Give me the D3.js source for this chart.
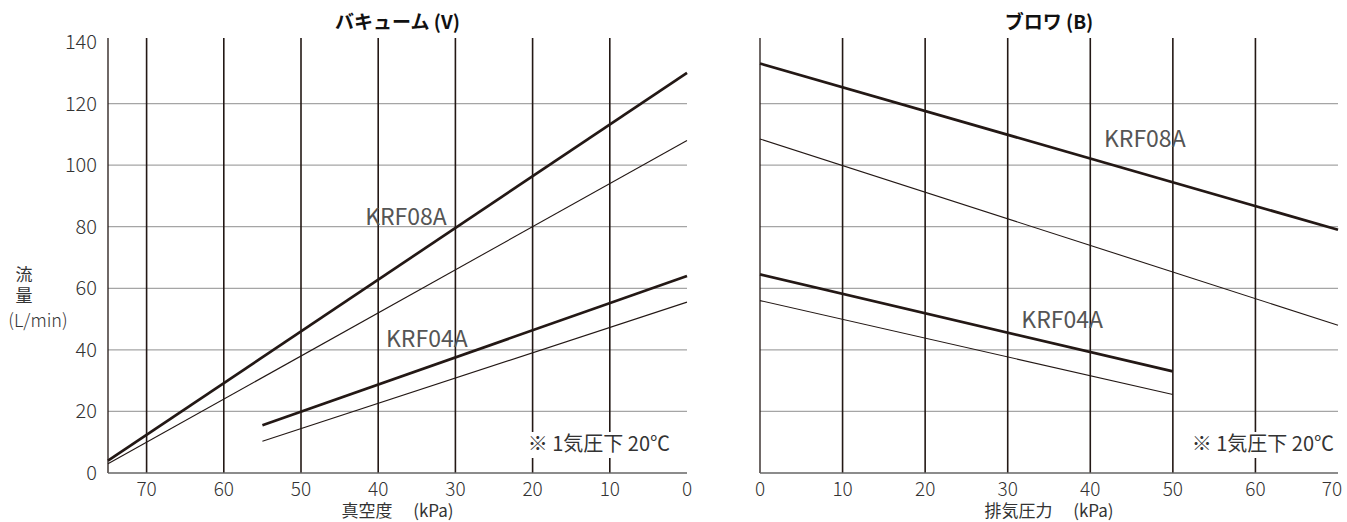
<!DOCTYPE html>
<html>
<head>
<meta charset="utf-8">
<script src="https://cdn.jsdelivr.net/npm/d3@7"></script>
<style>
  body { margin: 0; background: #fff; }
  svg text { font-family: "Noto Sans CJK JP", "Noto Sans", sans-serif; }
</style>
</head>
<body>
<svg id="chart" width="1347" height="522"></svg>
<script>
// flow vs pressure, two panels (vacuum / blower)

var flowTicks = [0, 20, 40, 60, 80, 100, 120, 140];
var vacuumTicks = [70, 60, 50, 40, 30, 20, 10, 0];
var blowerTicks = [0, 10, 20, 30, 40, 50, 60, 70];

// vacuum side: [kPa, L/min]
var vac08Upper = [[75, 4], [0, 130]];
var vac08Lower = [[75, 3], [0, 108]];
var vac04Upper = [[55, 15.5], [0, 64]];
var vac04Lower = [[55, 10.3], [0, 55.5]];

// blower side: [kPa, L/min]
var blo08Upper = [[0, 133], [70, 79]];
var blo08Lower = [[0, 108.5], [70, 48]];
var blo04Upper = [[0, 64.5], [50, 33]];
var blo04Lower = [[0, 56], [50, 25.5]];

var svg = d3.select('#chart');
var ink = '#231815';

var y = d3.scaleLinear().domain([0, 140]).range([473, 42]);
var yTop = 38;

function drawPanel(p) {
  var x = d3.scaleLinear().domain(p.domain).range(p.range);
  var g = svg.append('g');
  var x0 = p.range[0], x1 = p.range[1];

  // horizontal grid
  g.selectAll('line.h').data(flowTicks.filter(function(d) { return d > 0 && d < 140; }))
    .enter().append('line')
      .attr('x1', x0).attr('x2', x1)
      .attr('y1', function(d) { return y(d); })
      .attr('y2', function(d) { return y(d); })
      .attr('stroke', '#a5a5a5').attr('stroke-width', 1.2);

  // vertical grid
  g.selectAll('line.v').data(p.grid)
    .enter().append('line')
      .attr('x1', function(d) { return x(d); })
      .attr('x2', function(d) { return x(d); })
      .attr('y1', yTop).attr('y2', y(0))
      .attr('stroke', ink).attr('stroke-width', 1.6);

  // axes
  g.append('line').attr('x1', x0).attr('x2', x0).attr('y1', yTop).attr('y2', y(0))
    .attr('stroke', ink).attr('stroke-width', 1.3);
  g.append('line').attr('x1', x0).attr('x2', x1).attr('y1', y(0)).attr('y2', y(0))
    .attr('stroke', '#666').attr('stroke-width', 1.4);

  // note with white box
  var note = g.append('g');
  note.append('rect')
    .attr('x', p.noteEnd - 150).attr('y', 432).attr('width', 154).attr('height', 26)
    .attr('fill', '#fff');
  note.append('text')
    .attr('x', p.noteEnd).attr('y', 451)
    .attr('text-anchor', 'end')
    .attr('font-size', 20).attr('fill', '#333')
    .text('※ 1気圧下 20℃');

  var line = d3.line()
    .x(function(d) { return x(d[0]); })
    .y(function(d) { return y(d[1]); });

  p.series.forEach(function(s) {
    g.append('path').datum(s.data)
      .attr('d', line)
      .attr('fill', 'none')
      .attr('stroke', ink)
      .attr('stroke-width', s.thick ? 2.7 : 1.1);
  });

  p.labels.forEach(function(l) {
    g.append('text')
      .attr('x', x(l.at[0])).attr('y', y(l.at[1]))
      .attr('text-anchor', 'middle')
      .attr('font-family', '"DejaVu Sans", sans-serif')
      .attr('font-size', 23).attr('fill', '#555')
      .text(l.text);
  });

  // tick labels (the last one is pulled in so it stays on the page)
  g.selectAll('text.xt').data(p.ticks)
    .enter().append('text')
      .attr('x', function(d) { return Math.min(x(d), 1332); })
      .attr('y', 496)
      .attr('text-anchor', 'middle')
      .attr('font-family', 'Roboto, sans-serif')
      .attr('font-weight', 300)
      .attr('font-size', 19).attr('fill', '#333')
      .text(function(d) { return d; });

  g.append('text')
    .attr('x', (x0 + x1) / 2).attr('y', 517)
    .attr('text-anchor', 'middle')
    .attr('font-size', 17).attr('fill', '#333')
    .text(p.xTitle);

  g.append('text')
    .attr('x', (x0 + x1) / 2).attr('y', 29)
    .attr('text-anchor', 'middle')
    .attr('font-size', 19).attr('font-weight', 'bold').attr('fill', '#111')
    .text(p.title);
}

drawPanel({
  domain: [75, 0], range: [108, 687],
  grid: [70, 60, 50, 40, 30, 20, 10],
  ticks: vacuumTicks,
  title: 'バキューム (V)',
  xTitle: '真空度　 (kPa)',
  noteEnd: 670,
  series: [
    {data: vac08Upper, thick: true}, {data: vac08Lower},
    {data: vac04Upper, thick: true}, {data: vac04Lower}
  ],
  labels: [{text: 'KRF08A', at: [36.4, 80.5]}, {text: 'KRF04A', at: [33.7, 41]}]
});

drawPanel({
  domain: [0, 70], range: [760, 1338],
  grid: [10, 20, 30, 40, 50, 60],
  ticks: blowerTicks,
  title: 'ブロワ (B)',
  xTitle: '排気圧力　 (kPa)',
  noteEnd: 1334,
  series: [
    {data: blo08Upper, thick: true}, {data: blo08Lower},
    {data: blo04Upper, thick: true}, {data: blo04Lower}
  ],
  labels: [{text: 'KRF08A', at: [46.6, 106]}, {text: 'KRF04A', at: [36.6, 47]}]
});

// y ticks (left panel only)
svg.selectAll('text.yt').data(flowTicks)
  .enter().append('text')
    .attr('x', 97)
    .attr('y', function(d) { return y(d) + 7; })
    .attr('text-anchor', 'end')
    .attr('font-family', 'Roboto, sans-serif')
    .attr('font-weight', 300)
    .attr('font-size', 20).attr('fill', '#333')
    .text(function(d) { return d; });

var yTitle = svg.append('g').attr('fill', '#333');
yTitle.append('text').attr('x', 24).attr('y', 281)
  .attr('text-anchor', 'middle').attr('font-size', 17).text('流');
yTitle.append('text').attr('x', 24).attr('y', 302)
  .attr('text-anchor', 'middle').attr('font-size', 17).text('量');
yTitle.append('text').attr('x', 38).attr('y', 327)
  .attr('text-anchor', 'middle').attr('font-size', 18)
  .attr('font-family', 'Roboto, sans-serif').attr('font-weight', 300)
  .text('(L/min)');
</script>
</body>
</html>
